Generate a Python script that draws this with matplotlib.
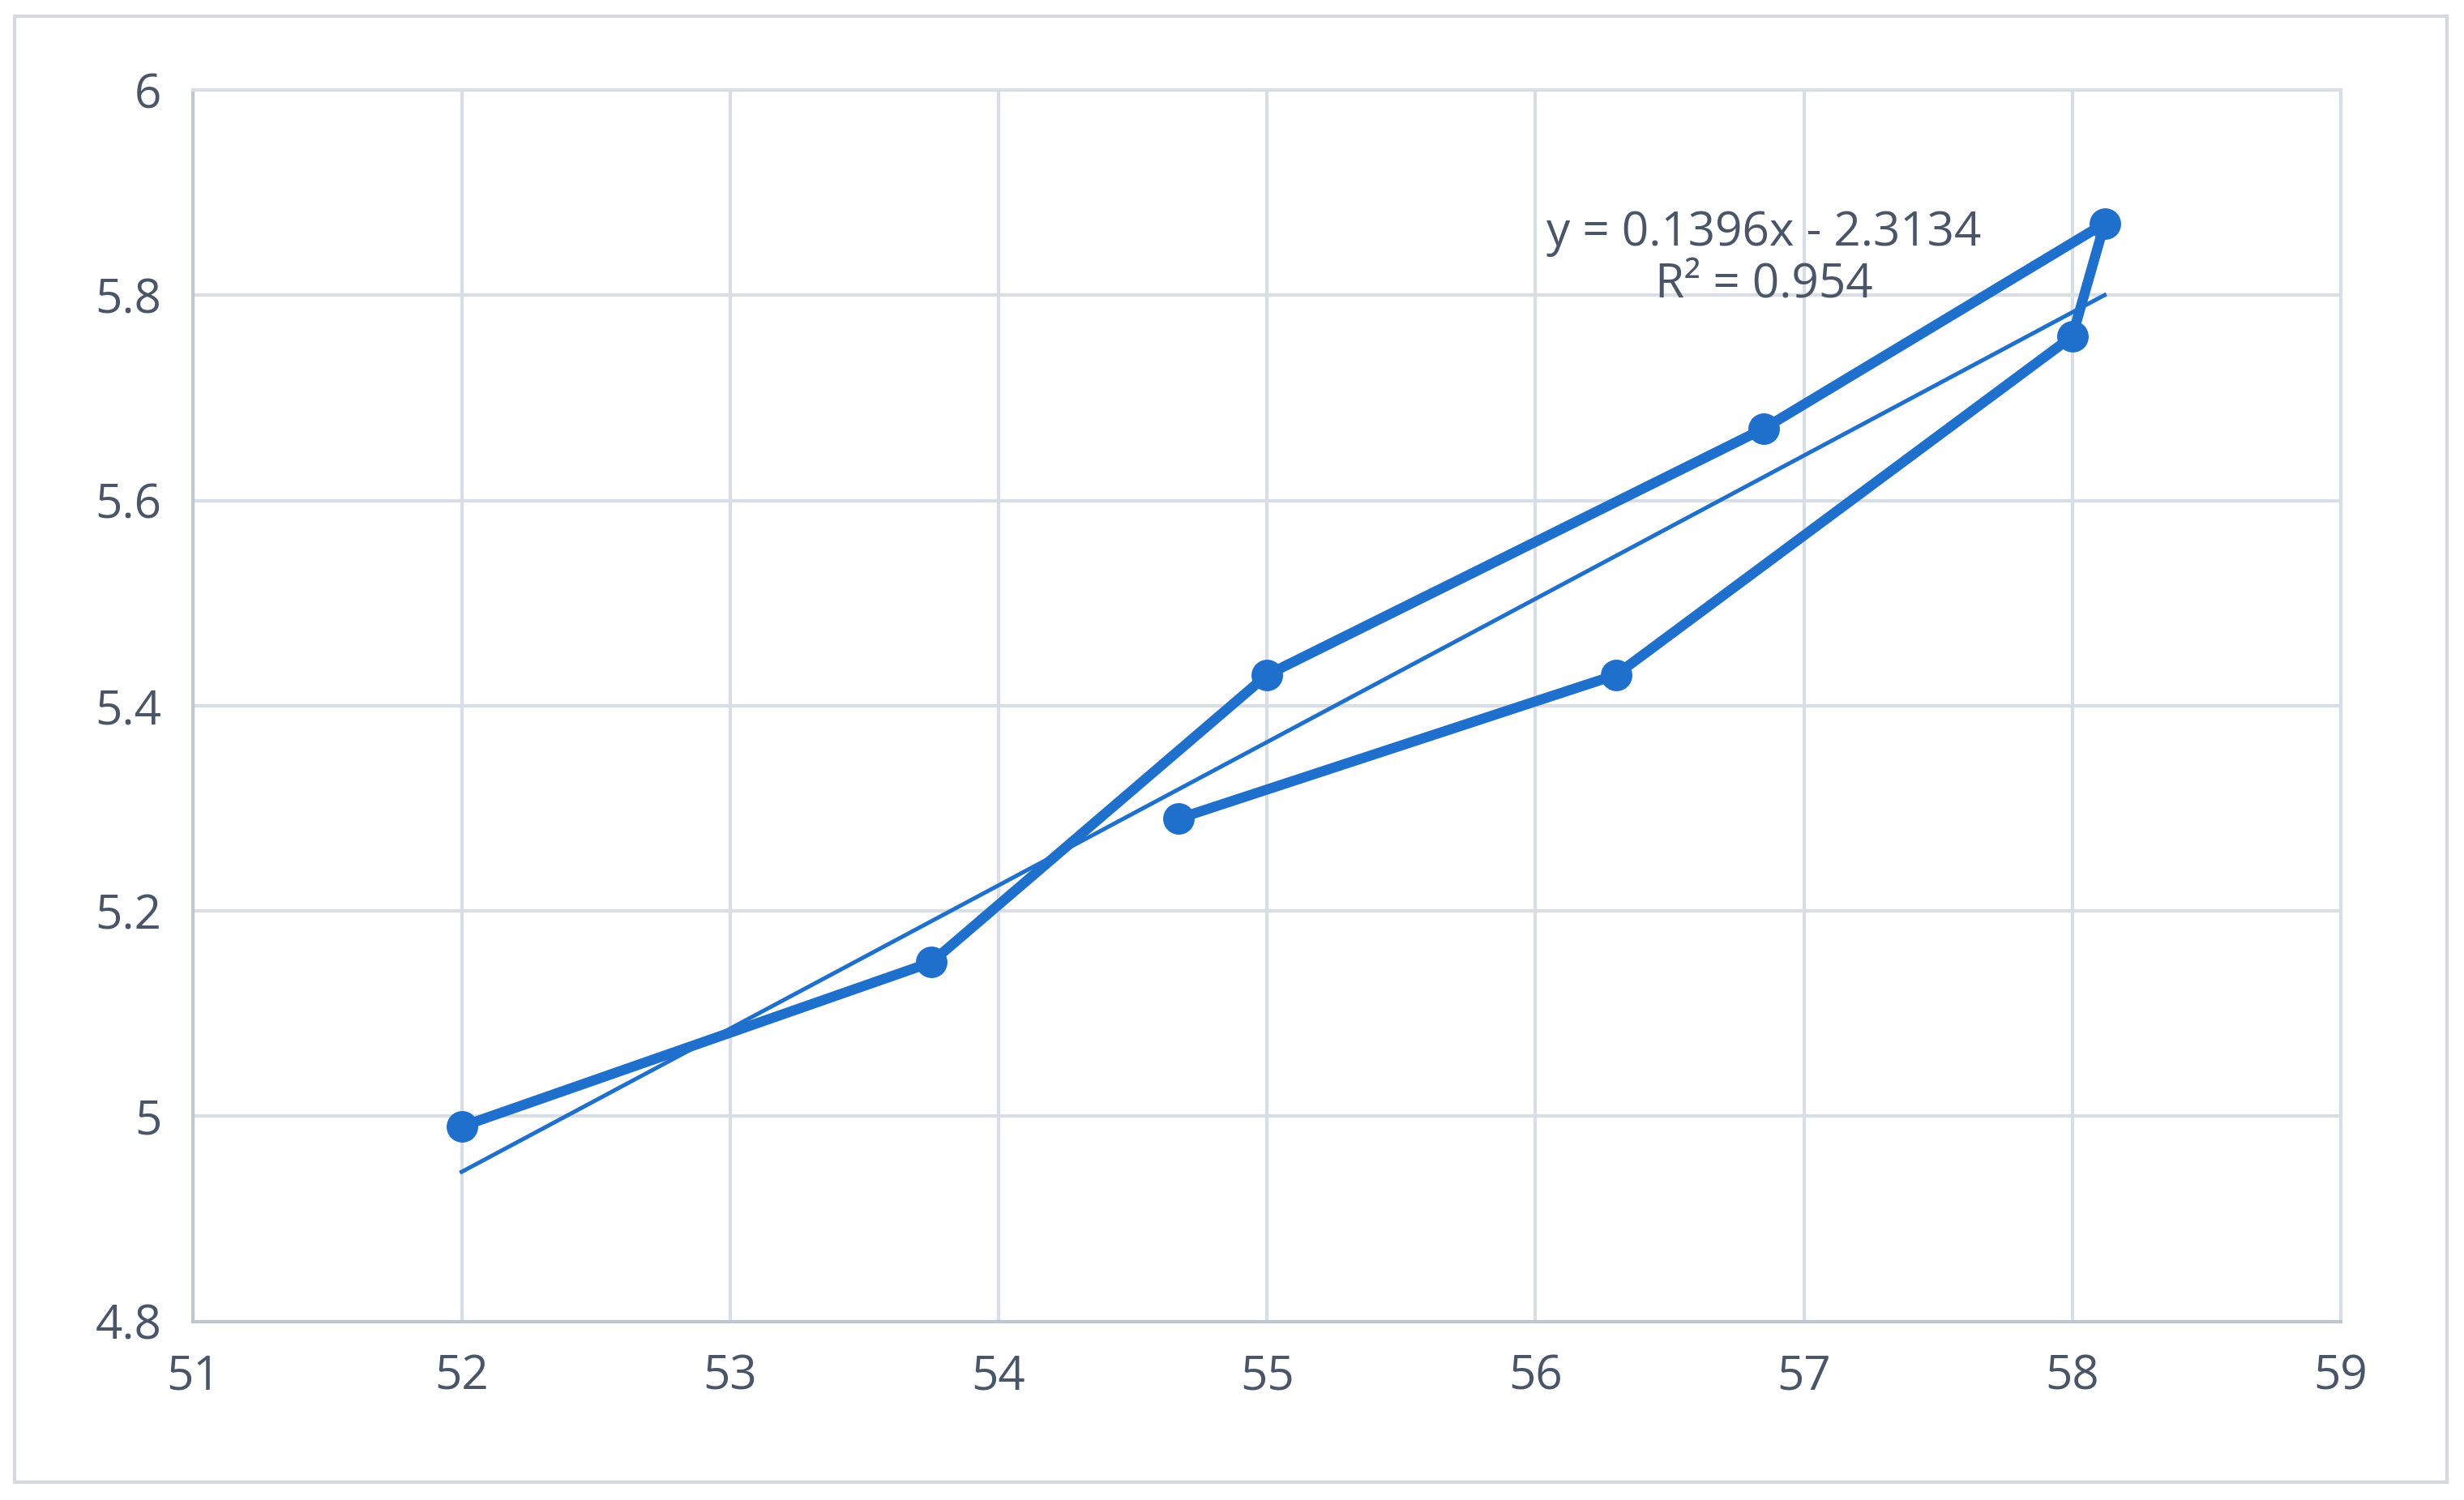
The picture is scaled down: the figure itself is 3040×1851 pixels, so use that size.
import numpy as np
import matplotlib.pyplot as plt
from matplotlib.patches import Rectangle

# data
xs = [52.0, 53.75, 55.0, 56.85, 58.12, 58.0, 56.3, 54.67]
ys = [4.99, 5.15, 5.43, 5.67, 5.87, 5.76, 5.43, 5.29]
slope, intercept = 0.1396, -2.3134
eq_text = "y = 0.1396x - 2.3134\nR² = 0.954"

blue = "#1f6fcc"
grid = "#d9dee6"
textc = "#4a5568"

plt.rcParams['font.family'] = ['Open Sans', 'DejaVu Sans']

fig = plt.figure(figsize=(15.2, 9.255), dpi=200)
fig.patches.append(Rectangle((0.006, 0.012), 0.987, 0.977, transform=fig.transFigure,
                             fill=False, edgecolor="#d5d9df", linewidth=1.5))
ax = fig.add_axes([0.0784, 0.119, 0.8716, 0.821])

ax.plot(xs, ys, color=blue, linewidth=4.5, marker="o", markersize=13, zorder=3)
tx = np.array([min(xs), max(xs)])
ax.plot(tx, slope * tx + intercept, color=blue, linewidth=1.8, zorder=2)
ax.text(56.85, 5.835, eq_text, ha="center", va="center", fontsize=21,
        color=textc, linespacing=1.15)

ax.set_xlim(51, 59)
ax.set_ylim(4.8, 6.0)
ax.set_xticks(range(51, 60))
ax.set_yticks([4.8, 5.0, 5.2, 5.4, 5.6, 5.8, 6.0])
ax.set_yticklabels(["4.8", "5", "5.2", "5.4", "5.6", "5.8", "6"])
ax.grid(True, color=grid, linewidth=1.5)
ax.set_axisbelow(True)
for s in ax.spines.values():
    s.set_color(grid)
    s.set_linewidth(1.5)
ax.spines["left"].set_color("#c0c6ce")
ax.spines["bottom"].set_color("#c0c6ce")
ax.tick_params(length=0, labelsize=21, labelcolor=textc, pad=14)

fig.savefig("out.png", dpi=200)
